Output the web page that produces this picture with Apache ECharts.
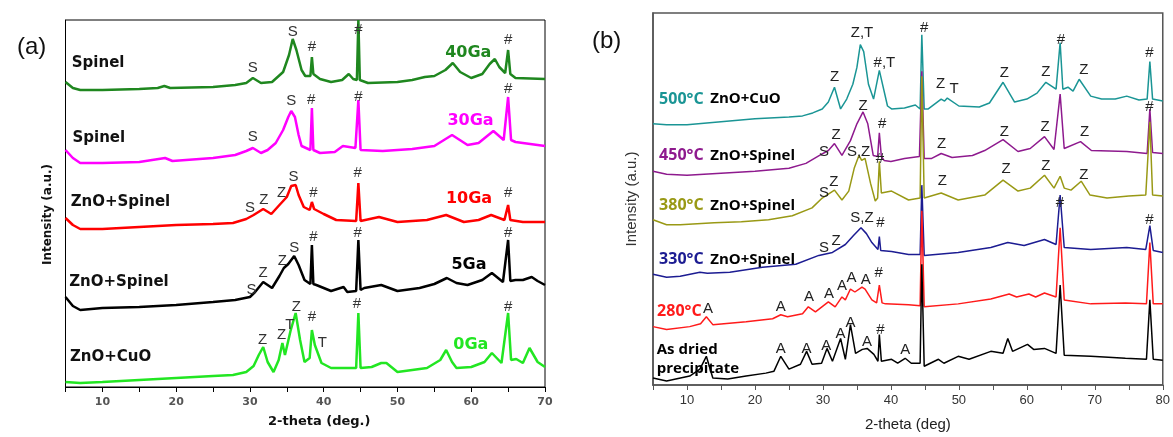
<!DOCTYPE html>
<html><head><meta charset="utf-8">
<script src="https://cdn.jsdelivr.net/npm/echarts@6/dist/echarts.min.js"></script>
<style>html,body{margin:0;padding:0;background:#fff}#c{width:1173px;height:437px}</style>
</head><body><div id="c"></div>
<script>
// ---------- Panel (a): 2-theta vs intensity (a.u., stacked) ----------
const aTickLabels = [10, 20, 30, 40, 50, 60, 70];
const a40Ga = [[5,305],[6,299],[7,297],[10,297],[15,298],[17.5,299],[18.4,301],[19.2,299],[25,300],[28,302],[29.5,304],[30.4,309],[31.5,304],[33,305],[34.5,315],[35.3,332],[35.8,348],[36.3,337],[37,317],[37.5,311],[38.2,311],[38.4,330],[38.6,313],[39.5,308],[41,305],[42.5,307],[43.4,313],[44,308],[44.5,307],[44.7,367],[44.9,307],[46,304],[50,305],[52,307],[53.7,310],[55,311],[56.5,317],[57.5,324],[58.5,315],[60,309],[61.5,313],[62.5,323],[63.2,328],[63.8,320],[64.6,314],[65.0,337],[65.3,313],[66,309],[70,308]];
const a30Ga = [[5,237],[6,229],[7,224],[10,224],[15,225],[18.5,229],[19.5,226],[25,229],[28,232],[29.5,236],[30.4,239],[31.5,234],[32.4,237],[33.5,244],[34.5,257],[35.2,270],[35.6,276],[36.1,270],[36.6,252],[37,241],[38.2,237],[38.4,279],[38.6,237],[39.5,234],[41.5,235],[42.6,241],[44.3,239],[44.7,287],[45,237],[48,236],[52,238],[55,241],[57.4,252],[59.5,242],[61,244],[63,256],[64.4,247],[65,290],[65.4,247],[66,245],[70,241]];
const a10Ga = [[5,169],[6,162],[7,158],[10,158],[15,160],[20,162],[25,163],[27.7,164],[29.5,168],[30.5,172],[31.8,178],[32.9,173],[34,182],[35,190],[35.6,201],[36.2,202],[36.6,192],[37.3,180],[38.1,177],[38.4,185],[38.7,178],[40,173],[41.7,167],[44.4,166],[44.7,204],[45,166],[47.5,170],[50,165],[54,167],[56.6,172],[59,165],[61,167],[62.7,172],[64.5,167],[65,182],[65.3,167],[67,165],[70,165]];
const a5Ga = [[5,90],[6,81],[7,77],[10,79],[15,80],[20,82],[25,85],[28,87],[30,90],[30.7,95],[31.8,105],[33,99],[34,111],[34.6,119],[35.2,123],[36,131],[36.6,122],[37.4,107],[38.2,103],[38.4,142],[38.6,103],[39,102],[41,96],[42.7,100],[43.2,95],[44.4,96],[44.7,147],[45,97],[45.5,99],[47.8,102],[50,96],[53,99],[55,103],[56.7,109],[58,104],[59.5,102],[61.5,107],[62.8,114],[64.3,105],[65,147],[65.3,106],[66,107],[67,107],[68.2,110],[69,106],[70,102]];
const a0Ga = [[5,5],[7,4],[10,5],[15,7],[20,9],[25,11],[27.7,12],[29.5,15],[30.5,21],[31.2,32],[31.8,40],[32.4,25],[33.2,15],[33.9,27],[34.4,44],[34.75,32],[35.5,56],[36.2,74],[36.8,47],[37.4,25],[38.1,29],[38.4,57],[38.8,42],[39.7,24],[41,19],[44.4,19],[44.7,74],[45,19],[46.5,20],[47.8,24],[48.5,24],[50,15],[54,19],[55.8,27],[56.6,37],[57.4,25],[58,19],[60,20],[61.8,25],[62.8,34],[64.1,24],[65,74],[65.4,27],[66.1,28],[67,24],[67.9,39],[69,25],[70,20]];
const aSeriesNames = ['40Ga','30Ga','10Ga','5Ga','0Ga'];
const aColors = ['#1f871f','#ff00ff','#ff0000','#000000','#22e622'];
const aPhaseLabels = [[5.85,324,'Spinel'],[5.95,249,'Spinel'],[5.7,185,'ZnO+Spinel'],[5.5,105,'ZnO+Spinel'],[5.6,30,'ZnO+CuO']];
const aNameLabels = [[59.6,334,'40Ga'],[59.9,266,'30Ga'],[59.7,188,'10Ga'],[59.7,122,'5Ga'],[59.95,42,'0Ga']];
const aPeakLabels = [
 [30.4,319,'S'],[35.8,355,'S'],[38.4,340,'#'],[44.7,357,'#'],[65,347,'#'],
 [30.4,250,'S'],[35.6,286,'S'],[38.3,287,'#'],[44.7,290,'#'],[65,298,'#'],
 [30.0,179,'S'],[31.9,187,'Z'],[34.3,194,'Z'],[35.9,210,'S'],[38.6,194,'#'],[44.6,214,'#'],[65,194,'#'],
 [30.2,97,'S'],[31.8,114,'Z'],[34.4,126,'Z'],[36.0,139,'S'],[38.6,150,'#'],[44.6,154,'#'],[65,154,'#'],
 [31.7,47,'Z'],[34.3,52,'Z'],[35.4,62,'T'],[36.3,80,'Z'],[38.4,70,'#'],[39.8,44,'T'],[44.5,83,'#'],[65,80,'#']
];

// ---------- Panel (b) ----------
const bTickLabels = [10, 20, 30, 40, 50, 60, 70, 80];
const b500 = [[5,264],[7,263],[10,263],[15,266],[20,269],[25,271],[27,272],[28.5,275],[29.9,279],[30.8,286],[31.7,301],[32.6,279],[33.5,289],[34.4,304],[35,321],[35.5,344],[36,337],[36.7,304],[37.45,289],[38.3,318],[39.5,282],[40.1,279],[42,280],[43.6,283],[44.3,279],[44.55,354],[44.9,279],[45.5,279],[47.4,289],[47.9,287],[48.3,290],[50,282],[53,281],[54.5,285],[56.5,306],[58.2,286],[60,289],[61.5,295],[62.8,306],[64.3,299],[64.9,346],[65.3,299],[66.05,301],[66.8,297],[67.7,309],[69.4,292],[71,289],[73,289],[74.7,292],[76.5,288],[77.7,289],[78.1,327],[78.5,289],[80,287]];
const b450 = [[5,216],[7,213],[10,212],[15,214],[20,216],[25,219],[27.5,224],[29.5,232],[30.8,237],[31.7,244],[32.8,232],[34.05,247],[35,264],[35.9,276],[36.6,264],[37.4,232],[38.05,231],[38.3,255],[38.6,231],[39,227],[40,226],[42,229],[44.2,231],[44.55,317],[44.9,229],[46,229],[47.4,234],[49,230],[52,232],[53.8,237],[56.5,248],[58.7,236],[60.5,239],[62.6,251],[64,238],[64.9,294],[65.5,239],[67.9,246],[69.5,237],[74.7,236],[77.7,234],[78.1,279],[78.5,235],[80,234]];
const b380 = [[5,167],[7,162],[9,162],[14,164],[18,165],[22,167],[25.5,171],[28.4,179],[29.9,189],[31.7,197],[32.8,187],[33.8,196],[34.6,219],[35.3,232],[35.7,227],[36.2,229],[37,204],[37.7,186],[38.05,189],[38.3,226],[38.6,194],[40.1,196],[42.6,187],[44.3,189],[44.55,312],[44.9,189],[47.4,194],[49.9,187],[53.8,192],[56.5,207],[58.7,196],[60.5,199],[62.6,212],[64,199],[64.9,211],[65.5,199],[66.5,197],[68,206],[69.3,192],[71.8,189],[75,191],[77.5,192],[78.1,266],[78.5,192],[80,191]];
const b330 = [[5,112],[7,109],[9,110],[11.9,114],[13,113],[16.3,114],[21.1,119],[26,122],[29.4,131],[31.4,134],[33.3,142],[34.5,151],[35.6,159],[36.4,153],[37.2,144],[38.1,137],[38.3,150],[38.5,136],[40.1,135],[42.6,132],[44.3,132],[44.55,202],[44.9,131],[49.9,134],[54.7,139],[57.2,144],[59.6,141],[62.6,147],[64.3,142],[64.9,192],[65.5,139],[69.4,137],[74.7,139],[77.5,137],[78.1,161],[78.6,136],[80,134]];
const b280 = [[5,59],[7,56],[10.4,59],[12,62],[12.85,69],[13.8,61],[18.7,64],[22.6,67],[23.8,71],[24.8,69],[27,72],[27.85,79],[28.9,74],[30.8,84],[31.8,79],[32.8,89],[33.3,86],[34.05,97],[34.7,94],[35.75,99],[36.2,97],[37.2,86],[37.9,83],[38.3,101],[38.7,83],[39.2,82],[42.6,81],[44.3,80],[44.55,176],[44.9,79],[49.9,82],[54.7,87],[57.4,92],[58.5,89],[60.3,92],[61.3,89],[62.6,93],[64.3,89],[64.9,159],[65.5,86],[69.4,82],[74.5,83],[77.6,82],[78.1,144],[78.6,82],[80,82]];
const bDried = [[5,7],[7,4],[10.4,9],[11.9,16],[12.85,29],[13.8,7],[16,6],[18.7,9],[21.6,12],[22.8,14],[23.8,29],[25,16],[26.7,21],[27.6,34],[28.4,21],[29.8,22],[30.6,37],[31.4,24],[32.6,47],[33.3,26],[34.05,61],[34.8,32],[35.8,36],[36.5,37],[37.5,31],[38.1,24],[38.3,51],[38.6,24],[40.1,26],[41,22],[42.1,27],[43,22],[44.3,22],[44.55,122],[44.9,19],[47,26],[47.8,22],[49.9,29],[51.5,26],[54.7,34],[56.5,32],[57.2,47],[57.9,34],[60.1,41],[61,36],[62.6,37],[64.3,32],[64.9,101],[65.5,30],[69.4,29],[72,28],[74.5,27],[77.6,26],[78.1,86],[78.6,26],[80,25]];
const bSeriesNames = ['500°C','450°C','380°C','330°C','280°C','As dried'];
const bColors = ['#1a9595','#8e1a8e','#999915','#1c1c92','#ff1a1a','#000000'];
const bTempLabels = [[5.9,289,'500°C','ZnO+CuO'],[5.9,232,'450°C','ZnO+Spinel'],[5.9,181,'380°C','ZnO+Spinel'],[5.9,127,'330°C','ZnO+Spinel'],[5.6,74,'280°C','']];
const bDriedLabels = [[5.55,36,'As dried'],[5.55,16,'precipitate']];
const bPeakLabels = [
 [31.7,311,'Z'],[35.75,356,'Z,T'],[39.05,326,'#,T'],[44.9,361,'#'],[47.3,304,'Z'],[49.3,299,'T'],[56.7,316,'Z'],[62.8,317,'Z'],[65.0,349,'#'],[68.4,319,'Z'],[78.05,336,'#'],
 [30.15,236,'S'],[31.95,253,'Z'],[35.9,282,'Z'],[38.7,264,'#'],[47.45,244,'Z'],[56.7,256,'Z'],[62.7,261,'Z'],[68.5,256,'Z'],[78.05,281,'#'],
 [30.15,194,'S'],[31.6,205,'Z'],[35.25,236,'S,Z'],[38.4,229,'#'],[47.55,206,'Z'],[56.95,218,'Z'],[62.8,221,'Z'],[68.4,212,'Z'],
 [30.15,139,'S'],[31.95,146,'Z'],[35.75,169,'S,Z'],[38.45,164,'#'],[64.85,184,'#'],[78.05,167,'#'],
 [13.1,77,'A'],[23.8,79,'A'],[27.95,89,'A'],[30.9,92,'A'],[32.8,100,'A'],[34.2,108,'A'],[36.3,106,'A'],[38.2,113,'#'],
 [23.8,37,'A'],[27.6,37,'A'],[30.5,40,'A'],[32.6,52,'A'],[34.05,63,'A'],[36.5,44,'A'],[38.45,56,'#'],[42.1,36,'A']
];

// ---------- build option ----------
const aData = [a40Ga, a30Ga, a10Ga, a5Ga, a0Ga];
const bData = [b500, b450, b380, b330, b280, bDried];
const series = [];
aData.forEach((d, i) => series.push({
  type: 'line', name: aSeriesNames[i], xAxisIndex: 0, yAxisIndex: 0, data: d,
  showSymbol: false, symbol: 'none', lineStyle: {color: aColors[i], width: 2.5}, itemStyle: {color: aColors[i]}, z: 2
}));
bData.forEach((d, i) => series.push({
  type: 'line', name: bSeriesNames[i], xAxisIndex: 1, yAxisIndex: 1, data: d,
  showSymbol: false, symbol: 'none', lineStyle: {color: bColors[i], width: 1.5}, itemStyle: {color: bColors[i]}, z: 2
}));
function textSeries(xi, items, labelOpt) {
  return {
    type: 'scatter', xAxisIndex: xi, yAxisIndex: xi, symbolSize: 1, z: 5, silent: true,
    itemStyle: {color: 'rgba(0,0,0,0)', opacity: 1},
    data: items.map(it => ({value: [it[0], it[1]], name: it[2]})),
    label: Object.assign({show: true, position: 'inside', formatter: p => p.name}, labelOpt)
  };
}
series.push(textSeries(0, aPeakLabels, {fontFamily: 'Liberation Sans', fontSize: 15, color: '#333', align: 'center', verticalAlign: 'middle'}));
series.push(textSeries(0, aPhaseLabels, {fontFamily: 'DejaVu Sans', fontWeight: 'bold', fontSize: 15, color: '#111', align: 'left', verticalAlign: 'middle'}));
const aNameSeries = textSeries(0, aNameLabels, {fontFamily: 'DejaVu Sans', fontWeight: 'bold', fontSize: 16, align: 'center', verticalAlign: 'middle'});
aNameSeries.data = aNameLabels.map((it, i) => ({value: [it[0], it[1]], name: it[2], label: {color: aColors[i]}}));
series.push(aNameSeries);
series.push(textSeries(1, bPeakLabels, {fontFamily: 'Liberation Sans', fontSize: 15, color: '#222', align: 'center', verticalAlign: 'middle'}));
const bTemp = textSeries(1, [], {});
bTemp.data = bTempLabels.map((it, i) => ({value: [it[0], it[1]], name: it[2], extra: it[3]}));
bTemp.label = {
  show: true, position: 'inside', align: 'left', verticalAlign: 'middle',
  formatter: p => '{t' + p.dataIndex + '|' + p.name + '}' + (p.data.extra ? '  {n|' + p.data.extra + '}' : ''),
  rich: Object.assign({n: {fontFamily: 'Open Sans', fontWeight: 'bold', fontSize: 15, color: '#000'}},
    ...bTempLabels.map((it, i) => ({['t' + i]: {fontFamily: 'Open Sans', fontWeight: 'bold', fontSize: 16, color: bColors[i]}})))
};
series.push(bTemp);
series.push(textSeries(1, bDriedLabels, {fontFamily: 'Open Sans', fontWeight: 'bold', fontSize: 15, color: '#000', align: 'left', verticalAlign: 'middle'}));

const option = {
  animation: false,
  backgroundColor: '#ffffff',
  title: [
    {text: '(a)', left: 12, top: 30, textStyle: {fontFamily: 'Liberation Sans', fontWeight: 'normal', fontSize: 24, color: '#111'}},
    {text: '(b)', left: 587, top: 24, textStyle: {fontFamily: 'Liberation Sans', fontWeight: 'normal', fontSize: 24, color: '#111'}}
  ],
  grid: [
    {left: 65.5, top: 20, right: 628, bottom: 50, show: true, borderColor: '#000', borderWidth: 1, backgroundColor: 'transparent'},
    {left: 653, top: 13, right: 7, bottom: 48, show: true, borderColor: '#555', borderWidth: 1.5, backgroundColor: 'transparent'}
  ],
  xAxis: [
    {gridIndex: 0, type: 'value', min: 5, max: 70, interval: 5,
     name: '2-theta (deg.)', nameLocation: 'middle', nameGap: 28,
     nameTextStyle: {fontFamily: 'DejaVu Sans', fontWeight: 'bold', fontSize: 13, color: '#111', padding: [0, 0, 0, 28]},
     axisLine: {lineStyle: {color: '#000', width: 1}}, axisTick: {length: 5, lineStyle: {color: '#000'}},
     axisLabel: {fontFamily: 'DejaVu Sans', fontWeight: 'bold', fontSize: 11, color: '#555', margin: 10,
       formatter: v => aTickLabels.includes(v) ? String(v) : ''},
     splitLine: {show: false}},
    {gridIndex: 1, type: 'value', min: 5, max: 80, interval: 5,
     name: '2-theta (deg)', nameLocation: 'middle', nameGap: 32,
     nameTextStyle: {fontFamily: 'Liberation Sans', fontSize: 15, color: '#222'},
     axisLine: {lineStyle: {color: '#555', width: 1.5}}, axisTick: {length: 5, lineStyle: {color: '#555'}},
     axisLabel: {fontFamily: 'Liberation Sans', fontSize: 13, color: '#333', margin: 9,
       formatter: v => bTickLabels.includes(v) ? String(v) : ''},
     splitLine: {show: false}}
  ],
  yAxis: [
    {gridIndex: 0, type: 'value', min: 0, max: 367,
     name: 'Intensity (a.u.)', nameLocation: 'middle', nameGap: 12,
     nameTextStyle: {fontFamily: 'DejaVu Sans', fontWeight: 'bold', fontSize: 12, color: '#111', padding: [0, 22, 0, 0]},
     axisLine: {show: true, lineStyle: {color: '#000'}}, axisTick: {show: false}, axisLabel: {show: false}, splitLine: {show: false}},
    {gridIndex: 1, type: 'value', min: 0, max: 376,
     name: 'Intensity (a.u.)', nameLocation: 'middle', nameGap: 14,
     nameTextStyle: {fontFamily: 'Liberation Sans', fontSize: 15, color: '#333'},
     axisLine: {show: true, lineStyle: {color: '#555', width: 1.5}}, axisTick: {show: false}, axisLabel: {show: false}, splitLine: {show: false}}
  ],
  series: series
};
const chart = echarts.init(document.getElementById('c'), null, {renderer: 'canvas'});
chart.setOption(option);
</script></body></html>
